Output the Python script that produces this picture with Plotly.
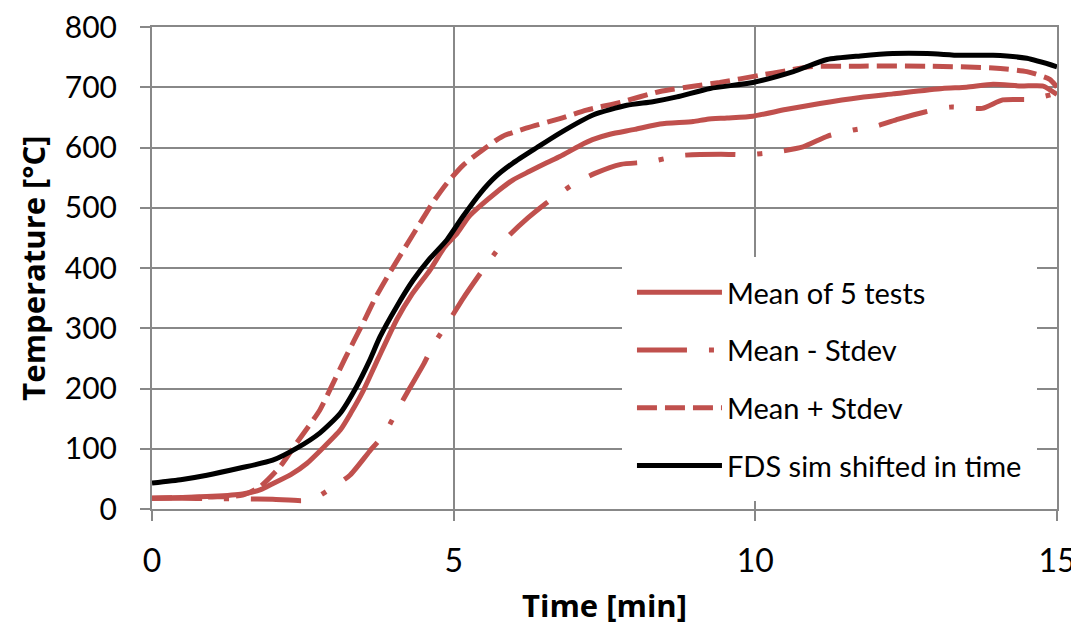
import plotly.graph_objects as go

# ---- data ----
t_mean = [0, 0.5, 1.0, 1.5, 1.8, 2.0, 2.3, 2.57, 2.8, 3.12, 3.3, 3.5, 3.75, 4.06, 4.3, 4.61, 4.85, 5.06,
          5.25, 5.44, 5.7, 5.98, 6.25, 6.55, 6.76, 7.09, 7.3, 7.59, 8.0, 8.42, 8.97, 9.2, 9.53, 9.96,
          10.5, 11.07, 11.74, 12.28, 13.1, 13.5, 13.94, 14.4, 14.77, 15.0]
y_mean = [18, 19, 21, 25, 32, 42, 57, 76, 98, 131, 160, 196, 250, 315, 355, 397, 435, 458,
          485, 503, 525, 546, 560, 575, 585, 603, 613, 622, 630, 639, 643, 647, 649, 652,
          663, 673, 683, 689, 698, 700, 705, 702, 702, 688]

t_minus = [0, 0.5, 1.0, 1.5, 2.0, 2.5, 2.7, 2.92, 3.28, 3.6, 3.86, 4.06, 4.28, 4.5, 4.66, 4.91, 5.16,
           5.4, 5.6, 5.88, 6.23, 6.5, 6.76, 7.0, 7.34, 7.77, 8.22, 8.8, 9.43, 9.88, 10.3, 10.79,
           11.2, 11.62, 12.02, 12.37, 12.81, 13.23, 13.76, 14.1, 14.55, 15.0]
y_minus = [18, 18, 17, 17, 16, 14, 18, 31, 56, 95, 126, 163, 202, 240, 272, 310, 350,
           385, 413, 450, 483, 505, 524, 540, 557, 572, 576, 587, 589, 588, 592, 601,
           619, 629, 636, 647, 659, 667, 665, 679, 680, 690]

t_plus = [0, 0.5, 1.0, 1.5, 1.79, 2.12, 2.4, 2.78, 2.95, 3.2, 3.5, 3.7, 3.94, 4.2, 4.44, 4.65, 4.89,
          5.15, 5.44, 5.8, 6.2, 6.76, 7.2, 7.76, 8.42, 9.0, 9.41, 10.08, 10.5, 10.9, 11.74, 12.85,
          13.94, 14.5, 14.88, 15.0]
y_plus = [18, 19, 20, 23, 37, 70, 110, 164, 198, 250, 309, 350, 392, 435, 474, 508, 541,
          570, 593, 618, 632, 648, 662, 675, 693, 702, 708, 720, 727, 734, 735, 735,
          732, 726, 713, 700]

t_fds = [0, 0.5, 0.91, 1.46, 2.0, 2.4, 2.78, 3.12, 3.39, 3.6, 3.78, 4.05, 4.33, 4.6, 4.89, 5.15, 5.44,
         5.7, 5.98, 6.38, 6.76, 7.31, 7.87, 8.3, 8.7, 9.25, 9.96, 10.63, 11.19, 11.74, 12.28, 12.85,
         13.39, 13.94, 14.5, 15.0]
y_fds = [43, 49, 56, 68, 81, 101, 126, 159, 203, 245, 286, 335, 380, 415, 447, 485, 524,
         552, 574, 600, 624, 654, 670, 676, 684, 698, 708, 726, 746, 752, 756, 756,
         753, 753, 748, 734]

names = ["Mean of 5 tests", "Mean - Stdev", "Mean + Stdev", "FDS sim shifted in time"]
x_ticks = [0, 5, 10, 15]
y_ticks = [0, 100, 200, 300, 400, 500, 600, 700, 800]

RED = "#C0504D"
FONT = "Lato"
TFONT = "Open Sans"

fig = go.Figure()
series = [
    (t_mean, y_mean, names[0], RED, "solid"),
    (t_minus, y_minus, names[1], RED, "50px,22px,5px,22px"),
    (t_plus, y_plus, names[2], RED, "20px,8px"),
    (t_fds, y_fds, names[3], "black", "solid"),
]
for i, (tx, ty, nm, col, dash) in enumerate(series):
    fig.add_trace(go.Scatter(
        x=tx, y=ty, name=nm, mode="lines", legendgroup=f"g{i}",
        line=dict(color=col, width=5, dash=dash, shape="spline", smoothing=0.6),
    ))

grid = "#888888"
# page body has an 8px margin, so the figure is sized to fit the window
fig.update_layout(
    width=1071, height=618,
    margin=dict(l=144, r=22, t=19, b=117, autoexpand=False),
    paper_bgcolor="white", plot_bgcolor="white",
    font=dict(family=FONT, color="black", size=28),
    showlegend=True,
    legend=dict(
        x=0.5193, y=0.5228, xanchor="left", yanchor="top",
        bgcolor="white", bordercolor="white", borderwidth=10,
        font=dict(family=FONT, size=29, color="black"),
        tracegroupgap=17, itemwidth=85,
    ),
    xaxis=dict(
        range=[0, 15], tickvals=x_ticks, ticktext=[str(v) for v in x_ticks],
        showgrid=True, gridcolor=grid, gridwidth=2,
        showline=True, linecolor=grid, linewidth=2, mirror=True,
        ticks="outside", ticklen=10, tickwidth=2, tickcolor=grid,
        ticklabelstandoff=13, automargin=False, ticklabeloverflow="allow",
        tickfont=dict(family=FONT, size=32, color="black"),
        title=dict(text="<b>Time [min]</b>", font=dict(family=TFONT, size=31, color="black"), standoff=28),
        zeroline=False,
    ),
    yaxis=dict(
        range=[0, 800], tickvals=y_ticks, ticktext=[str(v) for v in y_ticks],
        showgrid=True, gridcolor=grid, gridwidth=2,
        showline=True, linecolor=grid, linewidth=2, mirror=True,
        ticks="outside", ticklen=10, tickwidth=2, tickcolor=grid,
        ticklabelstandoff=17, automargin=False, ticklabeloverflow="allow",
        tickfont=dict(family=FONT, size=30, color="black"),
        title=dict(text="<b>Temperature [°C]</b>", font=dict(family=TFONT, size=31, color="black"), standoff=10),
        zeroline=False,
    ),
)
fig.write_html("out.html")
